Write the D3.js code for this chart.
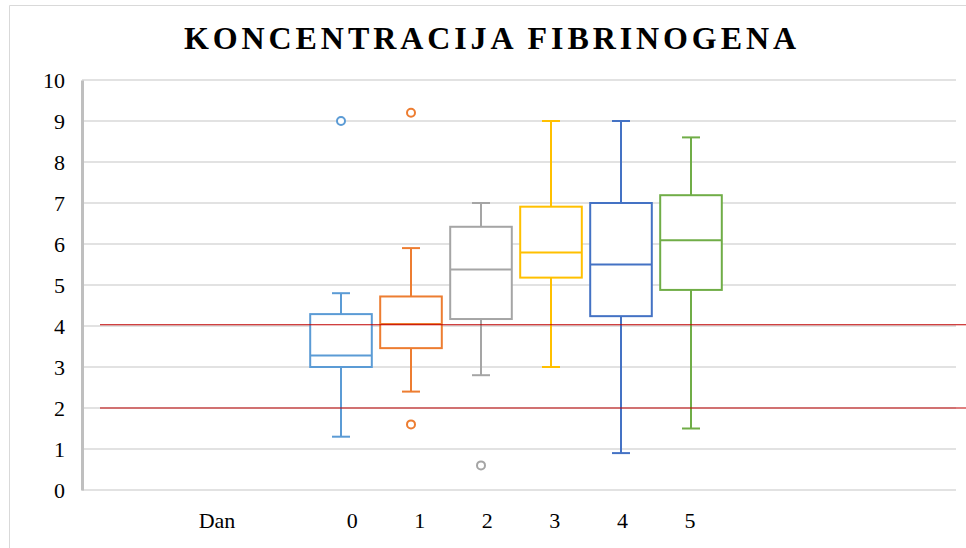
<!DOCTYPE html>
<html>
<head>
<meta charset="utf-8">
<script src="https://cdn.jsdelivr.net/npm/d3@7"></script>
<style>
  html, body { margin: 0; padding: 0; background: #fff; }
  svg { display: block; }
  svg text { font-family: "Liberation Serif", "Times New Roman", "DejaVu Serif", serif !important; }
</style>
</head>
<body>
<svg id="chart" width="966" height="548"></svg>
<script>
// ---- data ----
const title = "KONCENTRACIJA FIBRINOGENA";
const series = ["0", "1", "2", "3", "4", "5"];
const mins    = [1.3, 2.4, 2.8, 3.0, 0.9, 1.5];
const q1s     = [3.0, 3.46, 4.17, 5.18, 4.24, 4.88];
const medians = [3.28, 4.05, 5.38, 5.79, 5.5, 6.09];
const q3s     = [4.29, 4.72, 6.42, 6.91, 7.0, 7.19];
const maxs    = [4.8, 5.9, 7.0, 9.0, 9.0, 8.6];
const outliers = [[9.0], [9.2, 1.6], [0.6], [], [], []];
const colors = ["#5B9BD5", "#ED7D31", "#A5A5A5", "#FFC000", "#4472C4", "#70AD47"];
const refLines = [4.03, 2.0];
const yTicks = [0, 1, 2, 3, 4, 5, 6, 7, 8, 9, 10];
const xLabels = ["Dan", "", "0", "1", "2", "3", "4", "5"];

// ---- layout ----
const svg = d3.select("#chart");
const plot = { left: 82, right: 956, top: 80, bottom: 490 };

const y = d3.scaleLinear().domain([0, 10]).range([plot.bottom, plot.top]);
const x = d3.scaleBand().domain(series).range([306, 726]).paddingInner(0.12).paddingOuter(0.06);
const xl = d3.scalePoint().domain(xLabels).range([217, 690]);

// outer frame
svg.append("path").attr("d", "M9.5,548 V5.5 H966")
  .attr("fill", "none").attr("stroke", "#d9d9d9").attr("stroke-width", 1);

// title
svg.append("text")
  .attr("x", 490).attr("y", 49)
  .attr("text-anchor", "middle")
  .attr("font-weight", "bold").attr("font-size", 32)
  .attr("textLength", 612).attr("lengthAdjust", "spacing")
  .attr("fill", "#000")
  .text(title);

// gridlines
svg.append("g").selectAll("line").data(yTicks).join("line")
  .attr("x1", plot.left).attr("x2", plot.right)
  .attr("y1", d => y(d)).attr("y2", d => y(d))
  .attr("stroke", "#d9d9d9").attr("stroke-width", 1.5);

// y axis
const yAxis = d3.axisLeft(y).tickValues(yTicks).tickSize(0).tickPadding(17).tickFormat(d3.format("d"));
const gy = svg.append("g").attr("transform", `translate(${plot.left},0)`).call(yAxis);
gy.attr("font-family", null);
gy.select(".domain").attr("stroke", "#bfbfbf").attr("stroke-width", 3);
gy.selectAll("text").attr("font-size", 22).attr("fill", "#000");

// x labels
svg.append("g").selectAll("text").data(xLabels.filter(d => d !== "")).join("text")
  .attr("x", d => xl(d)).attr("y", 528)
  .attr("text-anchor", "middle")
  .attr("font-size", 22).attr("fill", "#000")
  .text(d => d);

// boxes
const capW = 18;
const boxes = svg.append("g").selectAll("g").data(series).join("g")
  .attr("stroke", (d, i) => colors[i]).attr("fill", "none").attr("stroke-width", 2);

boxes.each(function (d, i) {
  const g = d3.select(this);
  const cx = x(d) + x.bandwidth() / 2;
  g.append("line").attr("x1", cx).attr("x2", cx).attr("y1", y(maxs[i])).attr("y2", y(q3s[i]));
  g.append("line").attr("x1", cx).attr("x2", cx).attr("y1", y(q1s[i])).attr("y2", y(mins[i]));
  g.append("line").attr("x1", cx - capW / 2).attr("x2", cx + capW / 2).attr("y1", y(maxs[i])).attr("y2", y(maxs[i]));
  g.append("line").attr("x1", cx - capW / 2).attr("x2", cx + capW / 2).attr("y1", y(mins[i])).attr("y2", y(mins[i]));
  g.append("rect").attr("x", x(d)).attr("width", x.bandwidth())
    .attr("y", y(q3s[i])).attr("height", y(q1s[i]) - y(q3s[i])).attr("fill", "#fff");
  g.append("line").attr("x1", x(d)).attr("x2", x(d) + x.bandwidth())
    .attr("y1", y(medians[i])).attr("y2", y(medians[i]));
  g.selectAll("circle").data(outliers[i]).join("circle")
    .attr("cx", cx).attr("cy", v => y(v)).attr("r", 4).attr("fill", "#fff");
});

// reference lines
svg.append("g").selectAll("line").data(refLines).join("line")
  .attr("x1", 100).attr("x2", 966)
  .attr("y1", d => y(d)).attr("y2", d => y(d))
  .attr("stroke", "#C00000").attr("stroke-width", 1.2);
</script>
</body>
</html>
